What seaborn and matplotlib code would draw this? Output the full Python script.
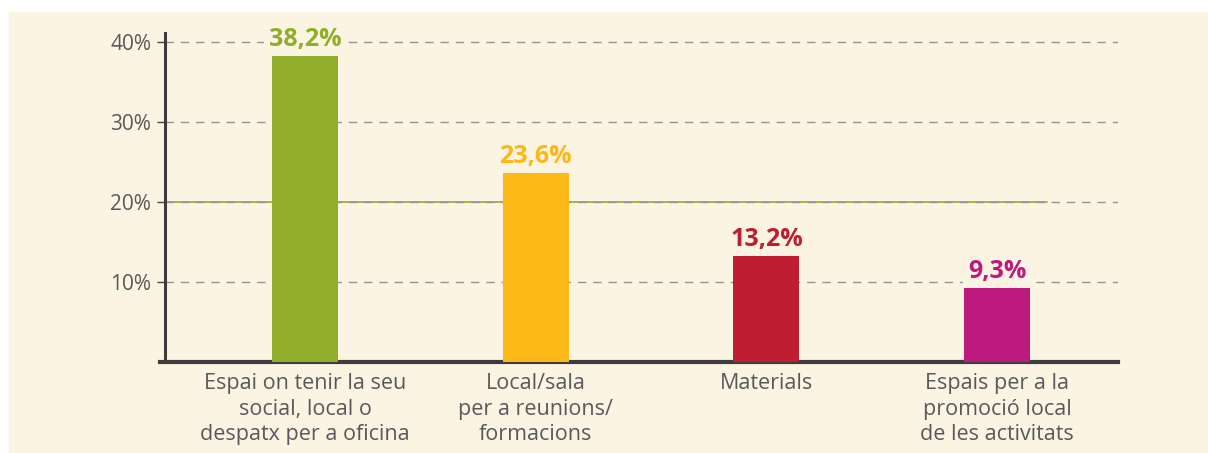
import matplotlib
matplotlib.use("Agg")
import matplotlib.pyplot as plt
import pandas as pd
import seaborn as sns

categories = [
    "Espai on tenir la seu\nsocial, local o\ndespatx per a oficina",
    "Local/sala\nper a reunions/\nformacions",
    "Materials",
    "Espais per a la\npromoció local\nde les activitats",
]
values = [38.2, 23.6, 13.2, 9.3]
bar_colors = ["#90ae2a", "#fbb817", "#be1e2f", "#bc1a7e"]
y_ticks = [10, 20, 30, 40]

bg = "#fcf4e3"
text_gray = "#58595b"

sns.set_theme(style="white")
plt.rcParams["font.family"] = ["Open Sans", "DejaVu Sans"]

df = pd.DataFrame({"cat": categories, "val": values})

fig = plt.figure(figsize=(12.08, 4.53), dpi=100, facecolor="white")
# cream panel behind the chart
fig.patches.append(plt.Rectangle((9 / 1208, 0), 1, 1 - 12 / 453,
                                 transform=fig.transFigure, color=bg, zorder=-10))
ax = fig.add_axes([165 / 1208, 91 / 453, (1118 - 165) / 1208, (362 - 33) / 453])
ax.patch.set_alpha(0)

sns.barplot(data=df, x="cat", y="val", hue="cat", palette=bar_colors,
            width=0.286, saturation=1, linewidth=0, legend=False, ax=ax, zorder=3)

ax.set_xlim(-0.607, 3.524)
ax.set_ylim(0, 41.1)

# dashed grid, the 20% line also carries a faint solid green stroke
ax.axhline(20, xmin=0, xmax=0.926, color="#90ae2a", lw=1.2, zorder=0.5)
for t in y_ticks:
    ax.axhline(t, color="#949494", lw=1, ls=(0, (6, 5)), zorder=1)

for i, (v, c) in enumerate(zip(values, bar_colors)):
    ax.text(i, v + 0.5, f"{v:.1f}%".replace(".", ","), ha="center", va="bottom",
            color=c, fontsize=18, fontweight="bold", zorder=2,
            bbox=dict(boxstyle="square,pad=0.2", fc=bg, ec="none"))

ax.set_yticks(y_ticks)
ax.set_yticklabels([f"{t}%" for t in y_ticks], color=text_gray, fontsize=15)
ax.tick_params(axis="y", length=6, width=1, color="#444444", pad=4, left=True)
ax.tick_params(axis="x", length=0, pad=8, labelsize=15.5, labelcolor=text_gray)
ax.set_xlabel("")
ax.set_ylabel("")
for lbl in ax.get_xticklabels():
    lbl.set_linespacing(1.28)

for s in ["top", "right"]:
    ax.spines[s].set_visible(False)
ax.spines["left"].set_color("#3d3d3d")
ax.spines["left"].set_linewidth(2.2)
ax.spines["bottom"].set_color("#3d3d3d")
ax.spines["bottom"].set_linewidth(3)
ax.spines["bottom"].set_bounds(-0.63, 3.524)

fig.savefig("out.png", dpi=100, facecolor="white")
